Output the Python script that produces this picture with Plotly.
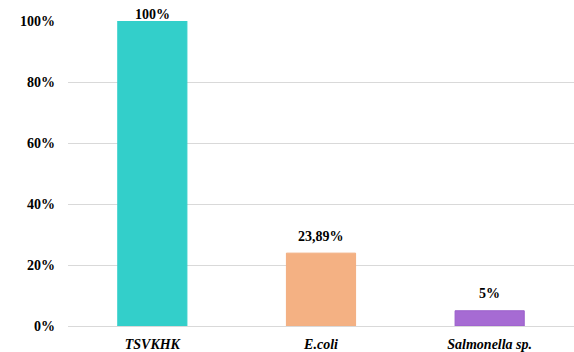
import plotly.graph_objects as go

categories = ["TSVKHK", "E.coli", "Salmonella sp."]
values = [100, 23.89, 5]
labels = ["100%", "23,89%", "5%"]
colors = ["#33CFCA", "#F4B183", "#A66BD3"]
line_colors = ["#33CFCA", "#F2AE80", "#9A5FCB"]
yticks = [0, 20, 40, 60, 80, 100]
ytick_text = ["0%", "20%", "40%", "60%", "80%", "100%"]

font = "Liberation Serif"

fig = go.Figure(go.Bar(
    x=categories, y=values,
    marker=dict(color=colors, line=dict(color=line_colors, width=1)),
    width=0.41,
    cliponaxis=False,
))

ymax = 100
for c, v, t in zip(categories, values, labels):
    fig.add_annotation(
        x=c, y=v, xref="x", yref="y", text="<b>%s</b>" % t,
        showarrow=False, yanchor="middle",
        yshift=7 if v >= ymax else 17,
        font=dict(family=font, size=14, color="#000000"),
    )

fig.update_layout(
    width=574, height=352,
    margin=dict(l=68, r=0, t=21, b=26),
    paper_bgcolor="white", plot_bgcolor="white",
    showlegend=False,
    font=dict(family=font, size=14, color="#000000"),
    xaxis=dict(
        tickvals=categories,
        ticktext=["<b><i>%s</i></b>" % c for c in categories],
        showline=False, showgrid=False, ticks="", ticklen=0,
        ticklabelstandoff=8,
        tickfont=dict(family=font, size=14, color="#000000"),
    ),
    yaxis=dict(
        range=[0, ymax], tickvals=yticks,
        ticktext=["<b>%s</b>" % t for t in ytick_text],
        showgrid=True, gridcolor="#D9D9D9", gridwidth=1,
        zeroline=True, zerolinecolor="#D9D9D9", zerolinewidth=1,
        showline=False, ticks="", ticklabelstandoff=12,
        tickfont=dict(family=font, size=14, color="#000000"),
    ),
)

fig.write_html("out.html")
